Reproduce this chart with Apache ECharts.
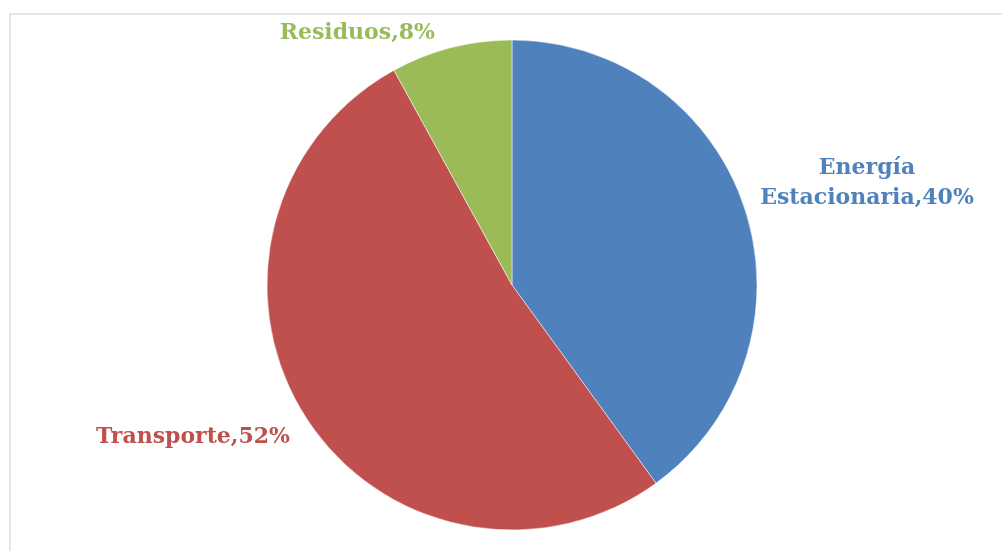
<!DOCTYPE html>
<html>
<head>
<meta charset="utf-8">
<script src="https://cdn.jsdelivr.net/npm/echarts@6/dist/echarts.min.js"></script>
<style>
    html, body { margin: 0; padding: 0; background: #ffffff; }
    #pie_chart { width: 1002px; height: 551px; }
</style>
</head>
<body>
<div id="pie_chart"></div>
<script>
var categories = ['Energía\nEstacionaria', 'Transporte', 'Residuos']
var shares = [40, 52, 8]
var colors = ['#4F81BD', '#C0504D', '#9BBB59']

function getPieChart() {
    var dom = document.getElementById('pie_chart')
    var instance = echarts.init(dom)
    // where the excel labels sit (anchor, align)
    var labelPos = [
        {x: 867, y: 183, align: 'center'},
        {x: 290, y: 437, align: 'right'},
        {x: 435, y: 33, align: 'right'}
    ]
    let option = {
        animation: false,
        graphic: [{
            type: 'rect',
            shape: {x: 10, y: 14, width: 1010, height: 560},
            style: {fill: 'none', stroke: '#e6e6e6', lineWidth: 2},
            silent: true
        }],
        series: [
            {
                type: 'pie',
                center: [512, 285],
                radius: 245,
                startAngle: 90,
                clockwise: true,
                data: categories.map(function (name, i) {
                    return {
                        name: name,
                        value: shares[i],
                        itemStyle: {color: colors[i]},
                        label: {color: colors[i]}
                    }
                }),
                itemStyle: {borderColor: '#ffffff', borderWidth: 0.5},
                label: {
                    show: true,
                    position: 'outside',
                    formatter: '{b},{c}%',
                    fontFamily: '"DejaVu Serif", serif',
                    fontWeight: 'bold',
                    fontSize: 22,
                    lineHeight: 30,
                    overflow: 'none'
                },
                labelLine: {show: false},
                labelLayout: function (params) {
                    var p = labelPos[params.dataIndex]
                    return {x: p.x, y: p.y, align: p.align, verticalAlign: 'middle'}
                },
                emphasis: {disabled: true}
            }
        ]
    };
    instance.setOption(option)
}

getPieChart()
</script>
</body>
</html>
